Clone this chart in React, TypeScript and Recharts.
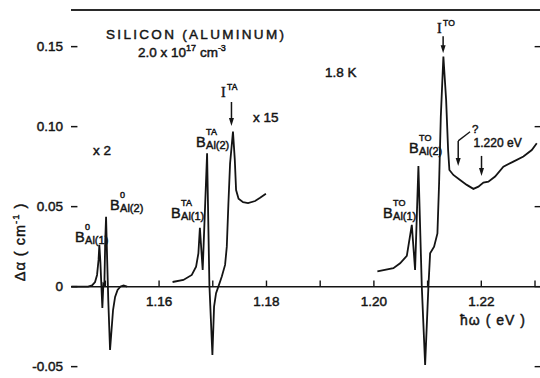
import { LineChart, Line, XAxis, YAxis, ReferenceLine, ReferenceDot } from "recharts";

// photon energy (eV) and absorption change (cm^-1)
const boundE = [1.1437, 1.14678, 1.14752, 1.14808, 1.14845, 1.14873, 1.14888, 1.14907, 1.14926, 1.14944, 1.14963, 1.14981, 1.14998, 1.15013, 1.15031, 1.15054, 1.15087, 1.15115, 1.15143, 1.15181, 1.15227, 1.15283, 1.15339, 1.15404];
const boundA = [0, 0, 0.0008, 0.0029, 0.0073, 0.0167, 0.0261, 0.0154, 0.0004, -0.0133, 0.0017, 0.0011, 0.0292, 0.0436, 0.0198, -0.0083, -0.0396, -0.0271, -0.0146, -0.0064, -0.0021, 0.0001, 0.0008, 0];

const taE = [1.16251, 1.16453, 1.16609, 1.16689, 1.16732, 1.1676, 1.16812, 1.16894, 1.16937, 1.16993, 1.17024, 1.17061, 1.17104, 1.17168, 1.17229, 1.17261, 1.17291, 1.17322, 1.17376, 1.1741, 1.17434, 1.1748, 1.17564, 1.17657, 1.17788, 1.17881, 1.17989];
const taA = [0.0029, 0.0042, 0.0073, 0.0125, 0.0208, 0.0367, 0.0104, 0.0834, 0.001, -0.0427, -0.0125, -0.0041, 0, 0.0063, 0.0136, 0.025, 0.052, 0.077, 0.0969, 0.0792, 0.0604, 0.055, 0.0528, 0.0522, 0.0535, 0.0555, 0.058];

const toE = [1.20065, 1.20363, 1.20488, 1.20613, 1.20706, 1.20767, 1.20829, 1.20892, 1.20954, 1.21015, 1.21047, 1.21121, 1.21183, 1.21214, 1.21246, 1.21294, 1.21345, 1.21382, 1.21406, 1.2148, 1.21605, 1.2173, 1.21853, 1.21946, 1.22039, 1.22132, 1.22257, 1.22411, 1.22597, 1.22784, 1.2294, 1.23033];
const toA = [0.0095, 0.0115, 0.0146, 0.0192, 0.0386, 0.0104, 0.0754, 0, -0.049, 0, 0.0208, 0.025, 0.0333, 0.0646, 0.1063, 0.1438, 0.1167, 0.0854, 0.0729, 0.0698, 0.0667, 0.0636, 0.0611, 0.0625, 0.065, 0.0656, 0.0688, 0.075, 0.0781, 0.0813, 0.0854, 0.0896];

const xMinorTicks = [1.15, 1.16, 1.17, 1.18, 1.19, 1.2, 1.21, 1.22, 1.23];
const xTickLabels = ["1.16", "1.18", "1.20", "1.22"];
const yTicks = [-0.05, 0, 0.05, 0.1, 0.15];
const yTickLabels = ["-0.05", "0", "0.05", "0.10", "0.15"];

const X_MIN = 1.1436;
const X_MAX = 1.23093;
const Y_MIN = -0.0571;
const Y_MAX = 0.1729;

const toRows = (e: number[], a: number[]) => e.map((v, i) => ({ e: v, a: a[i] }));
const boundRows = toRows(boundE, boundA);
const taRows = toRows(taE, taA);
const toRowsData = toRows(toE, toA);

const INK = "#141414";
const FONT = "'Liberation Sans', Arial, sans-serif";
// scanned lettering is heavier than a plain regular face
const heavy = { stroke: INK, strokeWidth: 0.45, paintOrder: "stroke" } as any;

function Txt({ cx, cy, children, size = 12.5, spacing = 0, family = FONT, anchor = "start" }: any) {
  return (
    <text x={cx} y={cy} fontSize={size} fontFamily={family} fill={INK} letterSpacing={spacing} textAnchor={anchor} {...heavy}>
      {children}
    </text>
  );
}

function BLabel({ cx, cy, sup, sub }: any) {
  return (
    <g fontFamily={FONT} fill={INK} {...heavy}>
      <text x={cx} y={cy} fontSize={14.5}>B</text>
      <text x={cx + 10} y={cy - 12} fontSize={9}>{sup}</text>
      <text x={cx + 10} y={cy + 2} fontSize={11}>{sub}</text>
    </g>
  );
}

function ILabel({ cx, cy, sup }: any) {
  return (
    <g fill={INK} {...heavy}>
      <text x={cx} y={cy} fontSize={14} fontFamily="'Liberation Serif', serif">I</text>
      <text x={cx + 6} y={cy - 7} fontSize={8.5} fontFamily={FONT}>{sup}</text>
    </g>
  );
}

function Arrow({ cx, cy, len }: any) {
  return (
    <g>
      <line x1={cx} x2={cx} y1={cy - len} y2={cy - 5} stroke={INK} strokeWidth={1.5} />
      <path d={`M${cx - 2.5},${cy - 8} L${cx + 2.5},${cy - 8} L${cx},${cy} Z`} fill={INK} />
    </g>
  );
}

export default function App() {
  return (
    <div style={{ position: "absolute", left: 0, top: 0, background: "#fff" }}>
      <LineChart width={540} height={378} margin={{ top: 10, right: 0, bottom: 0, left: 71 }}>
        <XAxis dataKey="e" type="number" domain={[X_MIN, X_MAX]} allowDataOverflow hide />
        <YAxis
          type="number"
          domain={[Y_MIN, Y_MAX]}
          allowDataOverflow
          width={0}
          tick={false}
          tickLine={false}
          axisLine={{ stroke: INK, strokeWidth: 1.9 }}
        />
        <ReferenceLine y={Y_MAX} stroke="#2a2a2a" strokeWidth={2} />
        <ReferenceLine y={0} stroke={INK} strokeWidth={1.5} />
        {xMinorTicks.map((v) => (
          <ReferenceLine key={"xt" + v} segment={[{ x: v, y: 0 }, { x: v, y: 0.0038 }]} stroke={INK} strokeWidth={1.4} />
        ))}
        {yTicks.map((v) => (
          <ReferenceLine key={"lt" + v} segment={[{ x: X_MIN, y: v }, { x: X_MIN + 0.0012, y: v }]} stroke={INK} strokeWidth={1.5} />
        ))}
        {yTicks.map((v) => (
          <ReferenceLine key={"rt" + v} segment={[{ x: X_MAX - 0.001, y: v }, { x: X_MAX, y: v }]} stroke={INK} strokeWidth={1.4} />
        ))}
        {yTicks.map((v, i) => (
          <ReferenceDot
            key={"yl" + v}
            x={X_MIN}
            y={v}
            r={1}
            shape={(p: any) => (
              <Txt cx={p.cx - 8} cy={p.cy + 4.8} size={13.5} anchor="end">
                {yTickLabels[i]}
              </Txt>
            )}
          />
        ))}
        {xTickLabels.map((l) => (
          <ReferenceDot
            key={"xl" + l}
            x={Number(l)}
            y={0}
            r={1}
            shape={(p: any) => (
              <Txt cx={p.cx} cy={p.cy + 19} size={13.5} anchor="middle">
                {l}
              </Txt>
            )}
          />
        ))}

        <Line data={boundRows} dataKey="a" stroke={INK} strokeWidth={1.8} dot={false} isAnimationActive={false} />
        <Line data={taRows} dataKey="a" stroke={INK} strokeWidth={1.8} dot={false} isAnimationActive={false} />
        <Line data={toRowsData} dataKey="a" stroke={INK} strokeWidth={1.8} dot={false} isAnimationActive={false} />

        <ReferenceDot x={1.15013} y={0.1546} r={1} shape={(p: any) => <Txt {...p} size={13.5} spacing={2.3}>SILICON (ALUMINUM)</Txt>} />
        <ReferenceDot
          x={1.15609}
          y={0.14375}
          r={1}
          shape={(p: any) => (
            <Txt {...p} size={13.5}>
              2.0 x 10<tspan fontSize={9} dy={-6}>17</tspan>
              <tspan dy={6}> cm</tspan>
              <tspan fontSize={9} dy={-6}>-3</tspan>
            </Txt>
          )}
        />
        <ReferenceDot x={1.19091} y={0.1311} r={1} shape={(p: any) => <Txt {...p} size={13.5}>1.8  K</Txt>} />
        <ReferenceDot x={1.1775} y={0.1031} r={1} shape={(p: any) => <Txt {...p} size={13.5}>x 15</Txt>} />
        <ReferenceDot x={1.14771} y={0.0823} r={1} shape={(p: any) => <Txt {...p} size={13.5}>x 2</Txt>} />

        <ReferenceDot x={1.17155} y={0.11875} r={1} shape={(p: any) => <ILabel {...p} sup="TA" />} />
        <ReferenceDot x={1.17348} y={0.1004} r={1} shape={(p: any) => <Arrow {...p} len={24} />} />
        <ReferenceDot x={1.21177} y={0.1586} r={1} shape={(p: any) => <ILabel {...p} sup="TO" />} />
        <ReferenceDot x={1.21289} y={0.1458} r={1} shape={(p: any) => <Arrow {...p} len={17} />} />

        <ReferenceDot x={1.14436} y={0.0279} r={1} shape={(p: any) => <BLabel {...p} sup="0" sub="Al(1)" />} />
        <ReferenceDot x={1.15088} y={0.0479} r={1} shape={(p: any) => <BLabel {...p} sup="0" sub="Al(2)" />} />
        <ReferenceDot x={1.16223} y={0.0429} r={1} shape={(p: any) => <BLabel {...p} sup="TA" sub="Al(1)" />} />
        <ReferenceDot x={1.16689} y={0.0873} r={1} shape={(p: any) => <BLabel {...p} sup="TA" sub="Al(2)" />} />
        <ReferenceDot x={1.20171} y={0.0429} r={1} shape={(p: any) => <BLabel {...p} sup="TO" sub="Al(1)" />} />
        <ReferenceDot x={1.20655} y={0.0836} r={1} shape={(p: any) => <BLabel {...p} sup="TO" sub="Al(2)" />} />

        <ReferenceDot x={1.21829} y={0.0961} r={1} shape={(p: any) => <Txt {...p} size={11.5}>?</Txt>} />
        <ReferenceLine segment={[{ x: 1.21791, y: 0.0968 }, { x: 1.2157, y: 0.0911 }]} stroke={INK} strokeWidth={1.3} />
        <ReferenceDot x={1.2157} y={0.0754} r={1} shape={(p: any) => <Arrow {...p} len={25} />} />
        <ReferenceDot x={1.21857} y={0.0875} r={1} shape={(p: any) => <Txt {...p} size={12}>1.220 eV</Txt>} />
        <ReferenceDot x={1.22004} y={0.0692} r={1} shape={(p: any) => <Arrow {...p} len={20} />} />

        <ReferenceDot x={1.21605} y={-0.0239} r={1} shape={(p: any) => <Txt {...p} size={14} spacing={1}>ħω ( eV )</Txt>} />
        <ReferenceDot
          x={X_MIN}
          y={0.0279}
          r={1}
          shape={(p: any) => (
            <g transform={`rotate(-90 ${p.cx - 46} ${p.cy})`}>
              <Txt cx={p.cx - 46} cy={p.cy} size={14.5} anchor="middle" spacing={1}>
                Δα ( cm<tspan fontSize={9.5} dy={-6}>-1</tspan>
                <tspan dy={6}> )</tspan>
              </Txt>
            </g>
          )}
        />
      </LineChart>
    </div>
  );
}
